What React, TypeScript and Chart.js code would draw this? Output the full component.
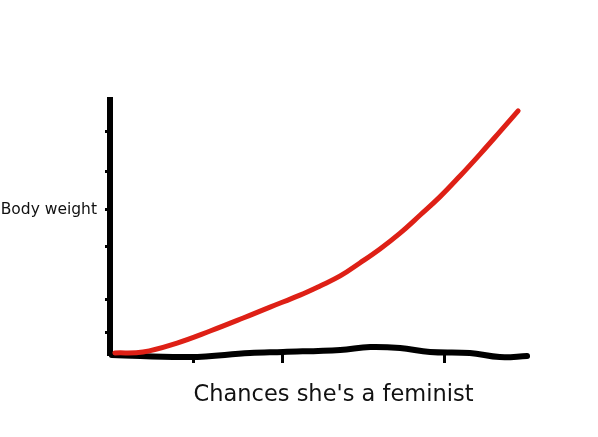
import React, { useEffect, useRef } from "react";
import { Chart, registerables } from "chart.js";

Chart.register(...registerables);

// Red curve: body weight vs chances she's a feminist
const redX = [1.1, 7.4, 15.0, 22.4, 29.8, 35.8, 42.5, 47.0, 51.5, 55.9, 60.4, 64.9, 69.4, 73.8, 78.3, 82.8, 87.2, 91.3];
const redY = [0.8, 1.2, 4.7, 9.4, 14.5, 18.8, 23.5, 27.1, 31.0, 36.1, 41.6, 47.8, 54.9, 62.0, 70.2, 78.8, 87.5, 95.7];

// Black hand-drawn line along the bottom
const blackX = [0.4, 17.9, 31.3, 38.7, 51.5, 58.2, 64.9, 71.6, 80.5, 87.2, 93.3];
const blackY = [0, -0.8, 0.8, 1.2, 2.0, 3.1, 2.7, 1.2, 0.8, -0.8, -0.4];

// Tick positions
const yTickValues = [87.5, 71.8, 56.9, 42.4, 21.6, 9.0];
const yLabelValue = 56.9;
const yLabelText = "Body weight";
const xTickValues = [18.6, 38.7, 74.9];
const xTitle = "Chances she's a feminist";

export default function App() {
  const ref = useRef<HTMLCanvasElement | null>(null);

  useEffect(() => {
    if (!ref.current) return;
    const chart = new Chart(ref.current, {
      type: "line",
      data: {
        datasets: [
          {
            data: redX.map((x, i) => ({ x, y: redY[i] })),
            borderColor: "rgb(222, 32, 22)",
            borderWidth: 5,
            pointRadius: 0,
            tension: 0.4,
            borderCapStyle: "round",
            borderJoinStyle: "round",
            clip: false as any,
          },
          {
            data: blackX.map((x, i) => ({ x, y: blackY[i] })),
            borderColor: "#000",
            borderWidth: 6,
            pointRadius: 0,
            tension: 0.4,
            borderCapStyle: "round",
            borderJoinStyle: "round",
            clip: false as any,
          },
        ],
      },
      options: {
        animation: false,
        responsive: false,
        layout: { padding: { top: 100, right: 41, left: 0, bottom: 0 } },
        plugins: { legend: { display: false }, tooltip: { enabled: false } },
        scales: {
          x: {
            type: "linear",
            min: 0,
            max: 100,
            afterBuildTicks: (s: any) => {
              s.ticks = xTickValues.map((v) => ({ value: v }));
            },
            afterFit: (s: any) => {
              s.height = 82;
            },
            ticks: { callback: () => "", padding: 0 },
            grid: {
              display: true,
              drawOnChartArea: false,
              drawTicks: true,
              tickLength: 8,
              tickColor: "#000",
              tickWidth: 3,
            },
            border: { display: false },
            title: {
              display: true,
              text: xTitle,
              color: "#111",
              font: { family: "DejaVu Sans", size: 22.5 },
              padding: { top: 0, bottom: 28 },
            },
          },
          y: {
            type: "linear",
            min: 0,
            max: 100,
            afterBuildTicks: (s: any) => {
              s.ticks = yTickValues.map((v) => ({ value: v }));
            },
            afterFit: (s: any) => {
              s.width = 110;
            },
            ticks: {
              callback: (v: any) => (v === yLabelValue ? yLabelText : ""),
              color: "#111",
              font: { family: "DejaVu Sans", size: 15.5 },
              padding: 8,
            },
            grid: {
              display: true,
              drawOnChartArea: false,
              drawTicks: true,
              tickLength: 5,
              tickColor: "#000",
              tickWidth: 3,
            },
            border: { display: true, color: "#000", width: 6 },
          },
        },
      },
    });
    return () => chart.destroy();
  }, []);

  return (
    <div style={{ position: "fixed", left: 0, top: 0, width: 598, height: 437, background: "#fff" }}>
      <canvas ref={ref} width={598} height={437} style={{ width: 598, height: 437 }} />
    </div>
  );
}
